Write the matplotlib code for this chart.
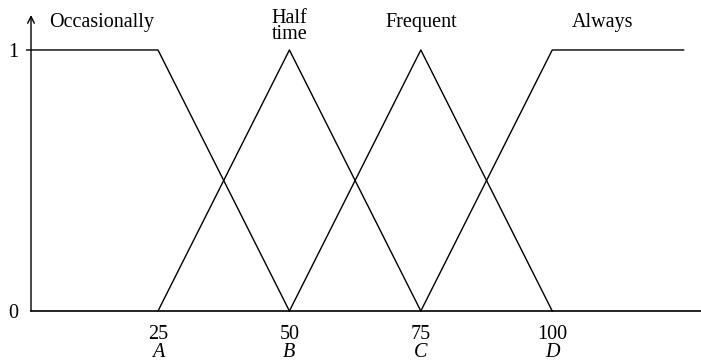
import matplotlib.pyplot as plt

plt.rcParams['font.family'] = 'Liberation Serif'

# breakpoints of the membership functions
ticks = [25, 50, 75, 100]
tick_letters = ['A', 'B', 'C', 'D']
x_end = 125

occ_x = [0, 25, 50]
occ_y = [1, 1, 0]
half_x = [25, 50, 75]
half_y = [0, 1, 0]
freq_x = [50, 75, 100]
freq_y = [0, 1, 0]
alw_x = [75, 100, x_end]
alw_y = [0, 1, 1]

names = ['Occasionally', 'Half\ntime', 'Frequent', 'Always']
name_x = [14.3, 50, 75, 109.6]
name_y = [1.105, 1.09, 1.105, 1.105]

fig = plt.figure(figsize=(7.01, 3.64), dpi=100)
ax = fig.add_axes([31 / 701, 53 / 364, 670 / 701, 296 / 364])

for xs, ys in [(occ_x, occ_y), (half_x, half_y), (freq_x, freq_y), (alw_x, alw_y)]:
    ax.plot(xs, ys, color='black', lw=1.0, clip_on=False)

ax.set_xlim(0.84, 128.3)
ax.set_ylim(0, 1.134)

for s in ['top', 'right', 'left']:
    ax.spines[s].set_visible(False)
ax.spines['bottom'].set_linewidth(1.2)

# y axis with arrow
ax.annotate('', xy=(0, 1.0), xytext=(0, 0), xycoords='axes fraction',
            arrowprops=dict(arrowstyle='->', color='black', lw=1.0,
                            shrinkA=0, shrinkB=0, mutation_scale=12))

fs = 14.5
ax.set_yticks([0, 1])
ax.set_yticklabels(['0', '1'], fontsize=fs)
ax.tick_params(axis='y', length=0, pad=9)
ax.set_xticks(ticks)
ax.set_xticklabels([str(t) for t in ticks], fontsize=fs)
ax.tick_params(axis='x', length=0, pad=10)

for t, l in zip(ticks, tick_letters):
    ax.text(t, -0.16, l, ha='center', va='center', fontsize=fs,
            style='italic', transform=ax.transData, clip_on=False)

for n, x, y in zip(names, name_x, name_y):
    ax.text(x, y, n, ha='center', va='center', fontsize=fs,
            linespacing=0.8, clip_on=False)

fig.savefig('out.png', dpi=100)
